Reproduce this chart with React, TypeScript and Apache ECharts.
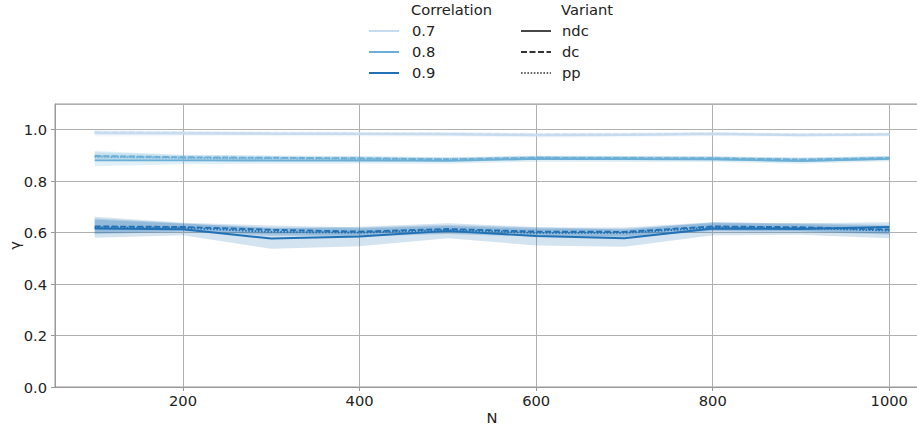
import React, { useEffect, useRef } from 'react';
import * as echarts from 'echarts';

const N_VALUES = [100, 200, 300, 400, 500, 600, 700, 800, 900, 1000];
const X_TICKS = [200, 400, 600, 800, 1000];
const CORRELATIONS = ['0.7', '0.8', '0.9'];
const VARIANTS = ['ndc', 'dc', 'pp'];

// Correlation 0.7
const C07_NDC = [0.986, 0.985, 0.984, 0.983, 0.982, 0.978, 0.979, 0.983, 0.978, 0.981];
const C07_NDC_LO = [0.974, 0.975, 0.975, 0.974, 0.973, 0.970, 0.970, 0.975, 0.971, 0.973];
const C07_NDC_HI = [0.998, 0.995, 0.993, 0.992, 0.991, 0.987, 0.988, 0.991, 0.986, 0.989];
const C07_DC = [0.990, 0.988, 0.986, 0.985, 0.984, 0.981, 0.982, 0.985, 0.981, 0.983];
const C07_DC_LO = [0.983, 0.982, 0.980, 0.979, 0.978, 0.975, 0.976, 0.980, 0.976, 0.978];
const C07_DC_HI = [0.997, 0.994, 0.992, 0.991, 0.990, 0.987, 0.988, 0.990, 0.986, 0.988];
const C07_PP = [0.989, 0.987, 0.985, 0.984, 0.983, 0.980, 0.981, 0.984, 0.980, 0.982];
const C07_PP_LO = [0.982, 0.981, 0.979, 0.978, 0.977, 0.974, 0.975, 0.979, 0.975, 0.977];
const C07_PP_HI = [0.996, 0.993, 0.991, 0.990, 0.989, 0.986, 0.987, 0.989, 0.985, 0.987];

// Correlation 0.8
const C08_NDC = [0.881, 0.881, 0.880, 0.881, 0.879, 0.887, 0.886, 0.885, 0.878, 0.887];
const C08_NDC_LO = [0.858, 0.866, 0.868, 0.869, 0.868, 0.876, 0.875, 0.875, 0.868, 0.877];
const C08_NDC_HI = [0.904, 0.896, 0.892, 0.893, 0.890, 0.898, 0.897, 0.895, 0.888, 0.897];
const C08_DC = [0.898, 0.893, 0.891, 0.889, 0.885, 0.891, 0.890, 0.889, 0.884, 0.890];
const C08_DC_LO = [0.885, 0.883, 0.882, 0.880, 0.877, 0.883, 0.882, 0.881, 0.876, 0.882];
const C08_DC_HI = [0.917, 0.903, 0.900, 0.898, 0.893, 0.899, 0.898, 0.897, 0.892, 0.898];
const C08_PP = [0.895, 0.891, 0.889, 0.887, 0.884, 0.890, 0.889, 0.888, 0.883, 0.889];
const C08_PP_LO = [0.880, 0.881, 0.880, 0.878, 0.876, 0.882, 0.881, 0.880, 0.875, 0.881];
const C08_PP_HI = [0.912, 0.901, 0.898, 0.896, 0.892, 0.898, 0.897, 0.896, 0.891, 0.897];

// Correlation 0.9
const C09_NDC = [0.616, 0.613, 0.577, 0.585, 0.607, 0.587, 0.578, 0.616, 0.614, 0.622];
const C09_NDC_LO = [0.580, 0.590, 0.537, 0.547, 0.578, 0.550, 0.545, 0.590, 0.592, 0.578];
const C09_NDC_HI = [0.655, 0.636, 0.617, 0.623, 0.636, 0.622, 0.611, 0.640, 0.636, 0.640];
const C09_DC = [0.624, 0.622, 0.611, 0.604, 0.614, 0.604, 0.603, 0.624, 0.621, 0.612];
const C09_DC_LO = [0.598, 0.606, 0.594, 0.588, 0.598, 0.588, 0.586, 0.608, 0.606, 0.596];
const C09_DC_HI = [0.662, 0.638, 0.628, 0.620, 0.630, 0.620, 0.620, 0.640, 0.636, 0.630];
const C09_PP = [0.620, 0.619, 0.603, 0.600, 0.610, 0.599, 0.599, 0.620, 0.618, 0.608];
const C09_PP_LO = [0.594, 0.603, 0.587, 0.585, 0.595, 0.584, 0.583, 0.605, 0.603, 0.593];
const C09_PP_HI = [0.650, 0.635, 0.620, 0.616, 0.626, 0.615, 0.615, 0.636, 0.633, 0.625];

const COLORS = ['#c6dbef', '#6baed6', '#2171b5'];
const DASHES: any[] = ['solid', [6, 2.5], [1.6, 1.6]];
const FONT = 'DejaVu Sans';
const FS = 14.7;
const TEXT = '#222';

const GROUPS = [
  [
    { mean: C07_NDC, lo: C07_NDC_LO, hi: C07_NDC_HI },
    { mean: C07_DC, lo: C07_DC_LO, hi: C07_DC_HI },
    { mean: C07_PP, lo: C07_PP_LO, hi: C07_PP_HI },
  ],
  [
    { mean: C08_NDC, lo: C08_NDC_LO, hi: C08_NDC_HI },
    { mean: C08_DC, lo: C08_DC_LO, hi: C08_DC_HI },
    { mean: C08_PP, lo: C08_PP_LO, hi: C08_PP_HI },
  ],
  [
    { mean: C09_NDC, lo: C09_NDC_LO, hi: C09_NDC_HI },
    { mean: C09_DC, lo: C09_DC_LO, hi: C09_DC_HI },
    { mean: C09_PP, lo: C09_PP_LO, hi: C09_PP_HI },
  ],
];

export default function App() {
  const ref = useRef<HTMLDivElement>(null);
  useEffect(() => {
    const chart = echarts.init(ref.current!, null, { renderer: 'svg' });
    const series: any[] = [];
    GROUPS.forEach((group, ci) => {
      group.forEach((g, vi) => {
        const rows = N_VALUES.map((n, i) => [n, g.lo[i], g.hi[i]]);
        series.push({
          type: 'custom',
          name: `${CORRELATIONS[ci]}-${VARIANTS[vi]}-band`,
          data: rows,
          encode: { x: 0, y: [1, 2] },
          silent: true,
          z: 1,
          clip: true,
          renderItem: (params: any, api: any) => {
            if (params.dataIndex !== 0) return null;
            const upper = rows.map((r) => api.coord([r[0], r[2]]));
            const lower = rows.map((r) => api.coord([r[0], r[1]])).reverse();
            return {
              type: 'polygon',
              shape: { points: upper.concat(lower) },
              style: { fill: COLORS[ci], opacity: 0.2 },
            };
          },
        });
      });
    });
    GROUPS.forEach((group, ci) => {
      group.forEach((g, vi) => {
        series.push({
          type: 'line',
          name: `${CORRELATIONS[ci]}-${VARIANTS[vi]}`,
          data: N_VALUES.map((n, i) => [n, g.mean[i]]),
          symbol: 'none',
          lineStyle: { color: COLORS[ci], width: 1.9, type: DASHES[vi] },
          z: 3,
        });
      });
    });

    const graphic: any[] = [];
    graphic.push({
      type: 'text', left: 411, top: 2,
      style: { text: 'Correlation', font: `${FS}px "${FONT}"`, fill: TEXT },
    });
    graphic.push({
      type: 'text', left: 561, top: 2,
      style: { text: 'Variant', font: `${FS}px "${FONT}"`, fill: TEXT },
    });
    CORRELATIONS.forEach((c, i) => {
      const y = 31 + i * 21;
      graphic.push({
        type: 'line',
        shape: { x1: 369, y1: y, x2: 399, y2: y },
        style: { stroke: COLORS[i], lineWidth: 2 },
      });
      graphic.push({
        type: 'text', left: 412, top: y - 8,
        style: { text: c, font: `${FS}px "${FONT}"`, fill: TEXT },
      });
    });
    VARIANTS.forEach((v, i) => {
      const y = 31 + i * 21;
      graphic.push({
        type: 'line',
        shape: { x1: 521, y1: y, x2: 551, y2: y },
        style: { stroke: '#333', lineWidth: i === 2 ? 1.5 : 1.8, lineDash: i === 0 ? null : DASHES[i] },
      });
      graphic.push({
        type: 'text', left: 562, top: y - 8,
        style: { text: v, font: `${FS}px "${FONT}"`, fill: TEXT },
      });
    });

    chart.setOption({
      animation: false,
      backgroundColor: '#fff',
      grid: {
        left: 55, top: 104, width: 874, height: 283,
        containLabel: false, outerBoundsMode: 'none',
        show: true, borderColor: '#999', borderWidth: 1, backgroundColor: 'transparent',
      },
      xAxis: {
        type: 'value',
        min: 55,
        max: 1045,
        name: 'N',
        nameLocation: 'middle',
        nameGap: 23,
        nameMoveOverlap: false,
        nameTextStyle: { fontFamily: FONT, fontSize: FS, color: TEXT },
        axisLine: { show: true, lineStyle: { color: '#999', width: 1 } },
        axisTick: { show: true, length: 4, customValues: X_TICKS, lineStyle: { color: '#999' } },
        axisLabel: {
          customValues: X_TICKS, fontFamily: FONT, fontSize: FS, color: TEXT, margin: 6,
          formatter: (v: number) => String(v),
        },
        splitLine: { show: true, lineStyle: { color: '#b0b0b0', width: 1 } },
      },
      yAxis: {
        type: 'value',
        min: 0,
        max: 1.1,
        interval: 0.2,
        name: 'γ',
        nameLocation: 'middle',
        nameGap: 33,
        nameRotate: 90,
        nameMoveOverlap: false,
        nameTextStyle: { fontFamily: FONT, fontSize: FS, color: TEXT },
        axisLine: { show: true, lineStyle: { color: '#999', width: 1 } },
        axisTick: { show: true, length: 4, lineStyle: { color: '#999' } },
        axisLabel: {
          fontFamily: FONT, fontSize: FS, color: TEXT, margin: 8, showMaxLabel: false,
          formatter: (v: number) => v.toFixed(1),
        },
        splitLine: { show: true, lineStyle: { color: '#b0b0b0', width: 1 } },
      },
      series,
      graphic,
    });
    return () => chart.dispose();
  }, []);
  return <div ref={ref} style={{ position: 'absolute', left: 0, top: 0, width: 917, height: 425 }} />;
}
